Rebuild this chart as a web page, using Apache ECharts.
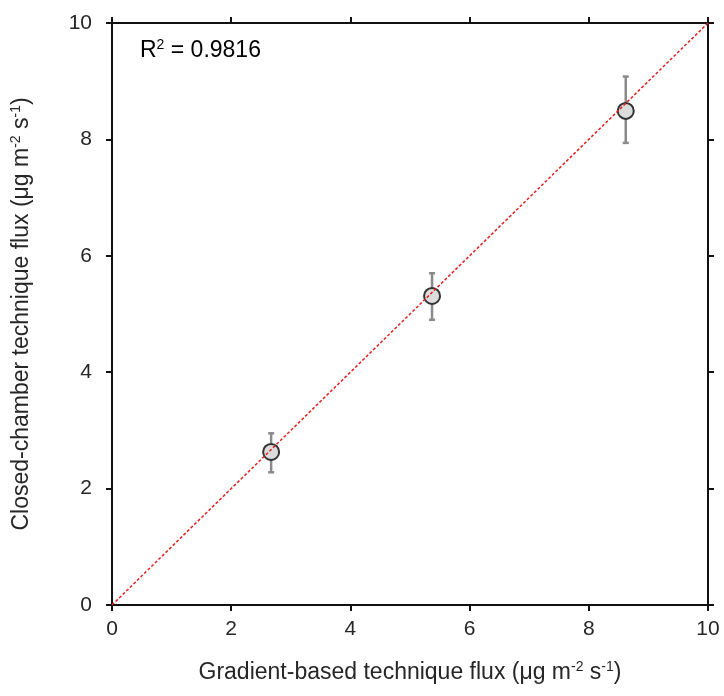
<!DOCTYPE html>
<html>
<head>
<meta charset="utf-8">
<script src="https://cdn.jsdelivr.net/npm/echarts@6/dist/echarts.min.js"></script>
<style>
  html, body { margin: 0; padding: 0; background: #fff; }
  #chart { width: 724px; height: 696px; }
</style>
</head>
<body>
<div id="chart"></div>
<script>
// Flux comparison: gradient-based (x) vs closed-chamber (y), with 1:1 line
const gradientFlux = [2.67, 5.37, 8.62];
const chamberFlux = [2.63, 5.31, 8.49];
const chamberLow = [2.28, 4.90, 7.94];
const chamberHigh = [2.95, 5.70, 9.08];
const oneToOne = [[0, 0], [10, 10]];
const axisTicks = [0, 2, 4, 6, 8, 10];
const r2Label = '0.9816';

const FONT = '"Liberation Sans", Arial, sans-serif';
const points = gradientFlux.map((x, i) => [x, chamberFlux[i]]);
const bars = gradientFlux.map((x, i) => [x, chamberLow[i], chamberHigh[i]]);

const supRich = {
  base: { fontSize: 23, fontFamily: FONT, color: '#262626' },
  sup: { fontSize: 14, fontFamily: FONT, color: '#262626', padding: [0, 0, 11, 0] }
};

const edgeAxis = (pos) => ({
  type: 'value', min: 0, max: 10, interval: 2, position: pos,
  axisLine: { show: true, onZero: false, lineStyle: { color: '#111', width: 2 } },
  axisTick: { show: true, inside: false, length: 6, lineStyle: { color: '#111', width: 2 } },
  axisLabel: { show: false },
  splitLine: { show: false }
});

const chart = echarts.init(document.getElementById('chart'), null, { renderer: 'canvas' });
chart.setOption({
  backgroundColor: '#fff',
  animation: false,
  grid: { left: 112, right: 16, top: 23, bottom: 91, containLabel: false },
  xAxis: [
    {
      type: 'value', min: 0, max: 10, interval: 2, position: 'bottom',
      axisLine: { show: true, onZero: false, lineStyle: { color: '#111', width: 2 } },
      axisTick: { show: true, inside: false, length: 6, lineStyle: { color: '#111', width: 2 } },
      axisLabel: { show: true, margin: 14, fontSize: 21, fontFamily: FONT, color: '#262626',
        formatter: (v) => axisTicks.includes(v) ? String(v) : '' },
      splitLine: { show: false },
      name: '{base|Gradient-based technique flux (μg m}{sup|-2}{base| s}{sup|-1}{base|)}',
      nameLocation: 'middle', nameGap: 55,
      nameTextStyle: { rich: supRich }
    },
    edgeAxis('top')
  ],
  yAxis: [
    {
      type: 'value', min: 0, max: 10, interval: 2, position: 'left',
      axisLine: { show: true, onZero: false, lineStyle: { color: '#111', width: 2 } },
      axisTick: { show: true, inside: false, length: 6, lineStyle: { color: '#111', width: 2 } },
      axisLabel: { show: true, margin: 20, fontSize: 21, fontFamily: FONT, color: '#262626',
        formatter: (v) => axisTicks.includes(v) ? String(v) : '' },
      splitLine: { show: false },
      name: '{base|Closed-chamber technique flux (μg m}{sup|-2}{base| s}{sup|-1}{base|)}',
      nameLocation: 'middle', nameGap: 78, nameRotate: 90,
      nameTextStyle: { rich: supRich }
    },
    edgeAxis('right')
  ],
  series: [
    {
      type: 'custom',
      name: 'range',
      z: 2,
      data: bars,
      renderItem: (params, api) => {
        const x = api.value(0);
        const lo = api.coord([x, api.value(1)]);
        const hi = api.coord([x, api.value(2)]);
        const cap = 3;
        const style = { stroke: '#8a8a8a', lineWidth: 2.5 };
        return {
          type: 'group',
          children: [
            { type: 'line', shape: { x1: lo[0], y1: lo[1], x2: hi[0], y2: hi[1] }, style },
            { type: 'line', shape: { x1: lo[0] - cap, y1: lo[1], x2: lo[0] + cap, y2: lo[1] }, style },
            { type: 'line', shape: { x1: hi[0] - cap, y1: hi[1], x2: hi[0] + cap, y2: hi[1] }, style }
          ]
        };
      }
    },
    {
      type: 'scatter',
      z: 3,
      data: points,
      symbol: 'circle',
      symbolSize: 16,
      itemStyle: { color: '#dcdcdc', borderColor: '#333', borderWidth: 2, opacity: 1 }
    },
    {
      type: 'line',
      z: 4,
      data: oneToOne,
      symbol: 'none',
      lineStyle: { color: '#e0201e', width: 1.5, type: [3, 2] }
    }
  ],
  graphic: [
    {
      type: 'text', left: 140, top: 38, z: 10,
      style: {
        text: '{base|R}{sup|2}{base| = ' + r2Label + '}',
        rich: supRich
      }
    }
  ]
});
</script>
</body>
</html>
